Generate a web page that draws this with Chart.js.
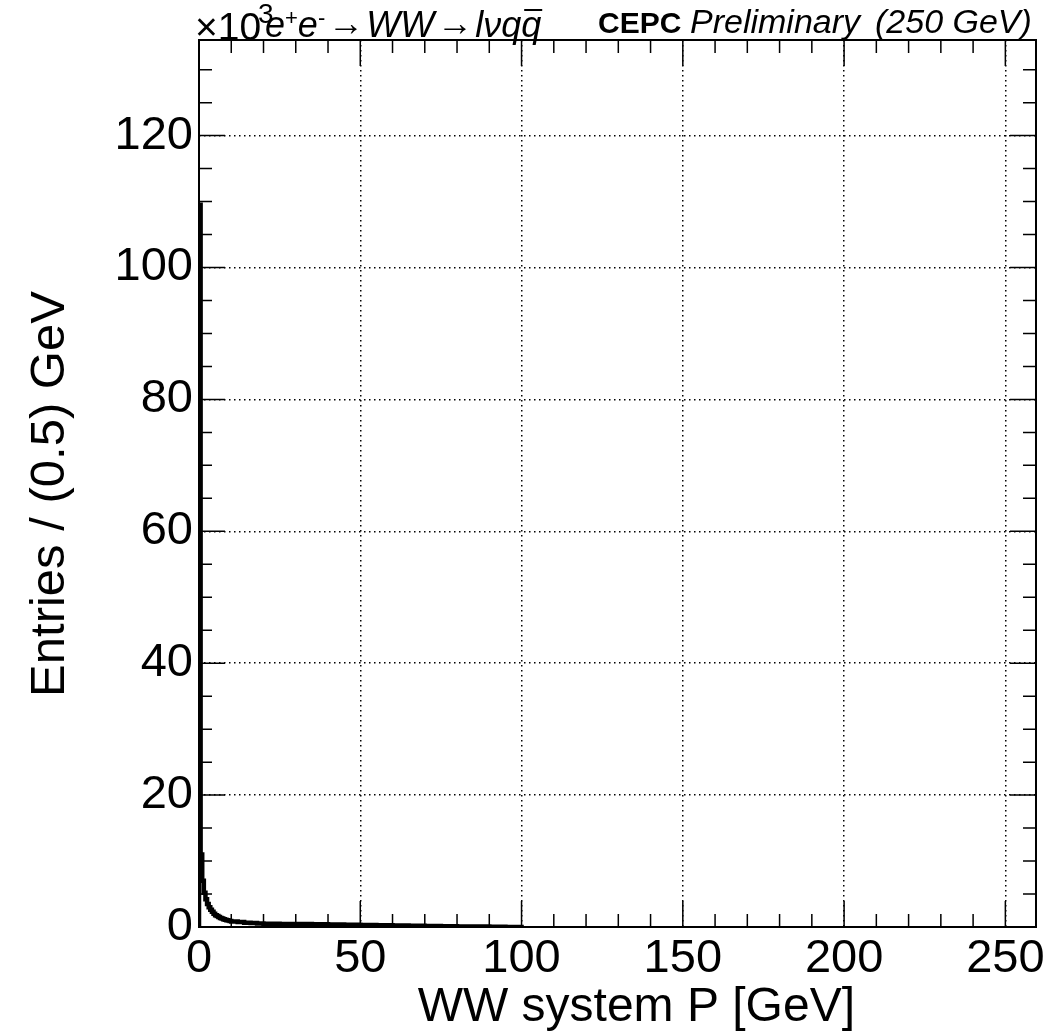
<!DOCTYPE html>
<html>
<head>
<meta charset="utf-8">
<script src="https://cdn.jsdelivr.net/npm/chart.js@4"></script>
<style>
  body { margin: 0; background: #fff; }
  canvas { display: block; }
</style>
</head>
<body>
<canvas id="wwChart" width="1054" height="1035"></canvas>
<script>
// bin low edges (GeV) and entries per 0.5 GeV (x10^3)
const binEdges = [0, 0.5, 1, 1.5, 2, 2.5, 3, 3.5, 4, 4.5, 5, 5.5, 6, 6.5, 7, 7.5, 8, 8.5, 9, 9.5,
                  10, 12, 14, 16, 18, 20, 25, 30, 35, 40, 45, 50, 55, 60, 65, 70, 75, 80, 85, 90, 95, 100];
const entries = [109.5, 11, 7, 5.2, 4.2, 3.5, 3.0, 2.6, 2.3, 2.0, 1.8, 1.65, 1.5, 1.38, 1.27, 1.18, 1.1, 1.03, 0.97, 0.92,
                 0.85, 0.75, 0.66, 0.59, 0.53, 0.5, 0.47, 0.44, 0.41, 0.37, 0.33, 0.3, 0.26, 0.22, 0.18, 0.15, 0.12, 0.09, 0.06, 0.03, 0.01];

const xTicks = [0, 50, 100, 150, 200, 250];
const yTicks = [0, 20, 40, 60, 80, 100, 120];
const xMax = 259.5;
const yMax = 134.5;

// histogram outline points: start at 0, one point per bin low edge, close at last edge
const points = [{ x: binEdges[0], y: 0 }];
for (let i = 0; i < entries.length; i++) {
    points.push({ x: binEdges[i], y: entries[i] });
}
points.push({ x: binEdges[binEdges.length - 1], y: 0 });

const FONT = '"Liberation Sans", Arial, Helvetica, sans-serif';

// frame, inner tick marks and texts drawn like a ROOT canvas
const rootFrame = {
    id: 'rootFrame',
    afterDraw(chart) {
        const ctx = chart.ctx;
        const a = chart.chartArea;
        const xs = chart.scales.x;
        const ys = chart.scales.y;
        ctx.save();
        ctx.strokeStyle = '#000';
        ctx.lineWidth = 1.5;
        ctx.beginPath();
        // x ticks (bottom and top), minor every 10 GeV
        for (let v = 0; v <= xMax; v += 10) {
            const px = xs.getPixelForValue(v);
            const len = (v % 50 === 0) ? 26 : 13;
            ctx.moveTo(px, a.bottom); ctx.lineTo(px, a.bottom - len);
            ctx.moveTo(px, a.top); ctx.lineTo(px, a.top + len);
        }
        // y ticks (left and right), minor every 5
        for (let v = 0; v <= yMax; v += 5) {
            const py = ys.getPixelForValue(v);
            const len = (v % 20 === 0) ? 26 : 13;
            ctx.moveTo(a.left, py); ctx.lineTo(a.left + len, py);
            ctx.moveTo(a.right, py); ctx.lineTo(a.right - len, py);
        }
        ctx.stroke();

        ctx.lineWidth = 2;
        ctx.strokeRect(a.left, a.top, a.right - a.left, a.bottom - a.top);

        ctx.fillStyle = '#000';
        // axis titles
        ctx.font = '48px ' + FONT;
        ctx.textAlign = 'right';
        ctx.textBaseline = 'alphabetic';
        ctx.fillText('WW system P [GeV]', 855, 1021);

        ctx.save();
        ctx.translate(64, 494);
        ctx.rotate(-Math.PI / 2);
        ctx.textAlign = 'center';
        ctx.font = '49px ' + FONT;
        ctx.fillText('Entries / (0.5) GeV', 0, 0);
        ctx.restore();

        // exponent label
        ctx.textAlign = 'left';
        ctx.font = '39px ' + FONT;
        ctx.fillText('\u00d710', 195, 40);
        ctx.font = '28px ' + FONT;
        ctx.fillText('3', 258, 23);

        // process label
        let x = 265;
        const base = 37;
        const big = 'italic 36px ' + FONT;
        const sup = '22px ' + FONT;
        const piece = (t, f, dy, gap) => {
            ctx.font = f;
            ctx.fillText(t, x, base + (dy || 0));
            x += ctx.measureText(t).width + (gap || 0);
        };
        piece('e', big);
        piece('+', sup, -12);
        piece('e', big);
        piece('-', sup, -12, 3);
        piece('\u2192', '36px ' + FONT, -2, 2);
        piece('WW', big, 0, 3);
        piece('\u2192', '36px ' + FONT, -2, 2);
        piece('l\u03bdq', big);
        ctx.font = big;
        const qx = x;
        const qw = ctx.measureText('q').width;
        piece('q', big);
        ctx.lineWidth = 2;
        ctx.beginPath();
        ctx.moveTo(qx + 3, base - 27);
        ctx.lineTo(qx + qw + 1, base - 27);
        ctx.stroke();

        ctx.font = 'bold 30px ' + FONT;
        ctx.fillText('CEPC', 598, 33);
        ctx.font = 'italic 34px ' + FONT;
        ctx.fillText('Preliminary', 690, 33);
        ctx.font = 'italic 34px ' + FONT;
        ctx.fillText('(250 GeV)', 875, 33);
        ctx.restore();
    }
};

const gridOpts = {
    drawTicks: false,
    color: ctx => (ctx.tick && ctx.tick.value === 0) ? 'rgba(0,0,0,0)' : '#000',
    lineWidth: 1.5
};

new Chart(document.getElementById('wwChart'), {
    type: 'line',
    data: {
        datasets: [{
            data: points,
            stepped: true,
            borderColor: '#000',
            borderWidth: 4.5,
            pointRadius: 0,
            fill: false
        }]
    },
    options: {
        responsive: false,
        animation: false,
        events: [],
        layout: { padding: { top: 40, right: 18, left: 0, bottom: 0 } },
        plugins: { legend: { display: false }, tooltip: { enabled: false } },
        scales: {
            x: {
                type: 'linear',
                min: 0,
                max: xMax,
                afterFit(scale) { scale.height = 108; },
                afterBuildTicks(scale) { scale.ticks = xTicks.map(v => ({ value: v })); },
                border: { display: false, dash: [1.5, 3.5] },
                grid: gridOpts,
                ticks: {
                    color: '#000',
                    font: { family: FONT, size: 47 },
                    padding: 4,
                    maxRotation: 0,
                    autoSkip: false
                }
            },
            y: {
                min: 0,
                max: yMax,
                afterFit(scale) { scale.width = 199; },
                afterBuildTicks(scale) { scale.ticks = yTicks.map(v => ({ value: v })); },
                border: { display: false, dash: [1.5, 3.5] },
                grid: gridOpts,
                ticks: {
                    color: '#000',
                    font: { family: FONT, size: 47 },
                    padding: 6,
                    autoSkip: false
                }
            }
        }
    },
    plugins: [rootFrame]
});
</script>
</body>
</html>
